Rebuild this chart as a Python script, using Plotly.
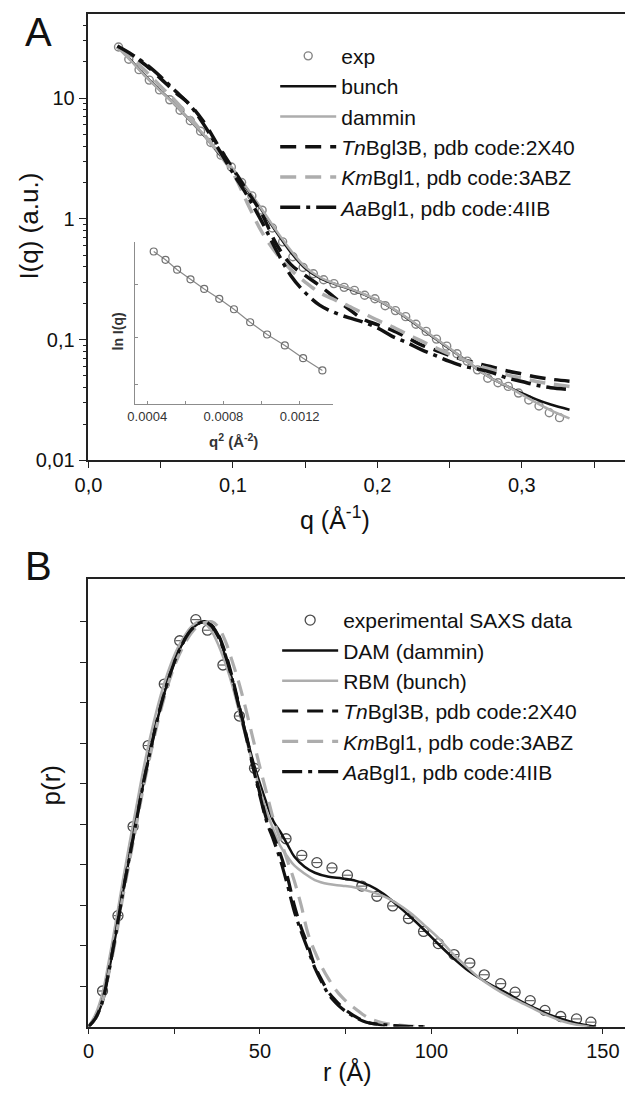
import plotly.graph_objects as go

# ---------------- Panel A: SAXS curves ----------------
q_exp = [0.0208, 0.0279, 0.0350, 0.0421, 0.0492, 0.0563, 0.0634, 0.0705, 0.0776, 0.0847,
         0.0918, 0.0989, 0.1060, 0.1131, 0.1202, 0.1273, 0.1344, 0.1415, 0.1486, 0.1557,
         0.1628, 0.1699, 0.1770, 0.1841, 0.1912, 0.1983, 0.2054, 0.2125, 0.2196, 0.2267,
         0.2338, 0.2409, 0.2480, 0.2551, 0.2622, 0.2693, 0.2764, 0.2835, 0.2906, 0.2977,
         0.3048, 0.3119, 0.3190, 0.3261]
I_exp = [26.5, 21.0, 17.2, 14.1, 11.7, 9.68, 7.94, 6.50, 5.32, 4.29,
         3.37, 2.69, 2.00, 1.55, 1.18, 0.84, 0.645, 0.486, 0.396, 0.351,
         0.313, 0.291, 0.271, 0.256, 0.233, 0.218, 0.191, 0.174, 0.155, 0.134,
         0.117, 0.101, 0.0883, 0.0764, 0.0664, 0.0562, 0.0479, 0.0440, 0.0410, 0.0361,
         0.0316, 0.0282, 0.0248, 0.0226]

q_fit = [0.02, 0.03, 0.04, 0.05, 0.06, 0.07, 0.08, 0.09, 0.10, 0.11, 0.12, 0.13, 0.14, 0.15,
         0.16, 0.17, 0.18, 0.19, 0.20, 0.21, 0.22, 0.23, 0.24, 0.25, 0.26, 0.27, 0.28, 0.29,
         0.30, 0.31, 0.32, 0.333]
I_bunch = [26.8, 20.2, 15.0, 11.5, 8.8, 6.6, 4.9, 3.5, 2.55, 1.75, 1.18, 0.78, 0.53, 0.39,
           0.325, 0.29, 0.265, 0.238, 0.212, 0.182, 0.152, 0.125, 0.102, 0.084, 0.069, 0.056,
           0.047, 0.041, 0.036, 0.032, 0.029, 0.0263]
I_dammin = [26.5, 20.0, 14.9, 11.4, 8.8, 6.6, 4.95, 3.55, 2.6, 1.78, 1.2, 0.8, 0.55, 0.40,
            0.33, 0.292, 0.267, 0.24, 0.213, 0.183, 0.153, 0.126, 0.103, 0.085, 0.069, 0.056,
            0.047, 0.041, 0.035, 0.030, 0.026, 0.0223]
I_tn = [26.5, 22.5, 18.6, 14.5, 11.2, 8.9, 6.3, 4.0, 2.6, 1.7, 1.1, 0.62, 0.42, 0.34,
        0.28, 0.225, 0.18, 0.148, 0.133, 0.12, 0.105, 0.091, 0.082, 0.074, 0.068, 0.063,
        0.059, 0.055, 0.052, 0.049, 0.047, 0.0453]
I_km = [26.5, 21.5, 16.5, 12.5, 9.5, 7.0, 5.0, 3.5, 2.4, 1.35, 0.78, 0.52, 0.38, 0.30,
        0.245, 0.215, 0.19, 0.166, 0.145, 0.128, 0.112, 0.098, 0.086, 0.076, 0.068, 0.061,
        0.056, 0.051, 0.048, 0.045, 0.043, 0.041]
I_aa = [27.0, 23.0, 19.0, 15.0, 11.5, 8.8, 6.0, 3.8, 2.4, 1.55, 0.95, 0.55, 0.34, 0.245,
        0.193, 0.168, 0.152, 0.14, 0.125, 0.107, 0.095, 0.083, 0.074, 0.066, 0.060, 0.057,
        0.053, 0.048, 0.045, 0.042, 0.040, 0.0387]

# Inset: Guinier plot
q2_guinier = [0.000434, 0.000496, 0.000557, 0.000627, 0.000699, 0.000778,
              0.000855, 0.000940, 0.001029, 0.001122, 0.001218, 0.001319]
lnI_guinier = [3.277, 3.245, 3.207, 3.170, 3.133, 3.095,
               3.055, 3.005, 2.958, 2.916, 2.867, 2.820]

# ---------------- Panel B: p(r) ----------------
r_exp = [4.1, 8.6, 13.0, 17.4, 22.1, 26.6, 31.3, 34.7, 39.2, 44.0, 48.4, 57.6, 62.2, 66.6,
         71.0, 75.5, 79.7, 84.1, 88.7, 93.3, 97.7, 102.0, 106.6, 111.2, 115.4, 120.2, 124.4,
         128.8, 133.1, 137.7, 142.3, 146.5]
p_exp = [0.088, 0.274, 0.494, 0.694, 0.846, 0.953, 1.005, 0.979, 0.893, 0.767, 0.638, 0.464,
         0.423, 0.405, 0.392, 0.374, 0.347, 0.322, 0.298, 0.267, 0.235, 0.205, 0.178, 0.157,
         0.128, 0.106, 0.085, 0.064, 0.040, 0.025, 0.019, 0.011]

r_dam = [0, 2, 4, 6, 8, 10, 12, 14, 16, 18, 20, 22, 24, 26, 28, 30, 32, 34, 36, 38, 40, 42,
         44, 46, 48, 50, 52, 54, 56, 58, 60, 63, 66, 70, 74, 78, 82, 86, 90, 94, 98, 102, 106,
         110, 114, 118, 122, 126, 130, 134, 138, 142, 146, 148]
p_dam = [0, 0.02, 0.06, 0.14, 0.23, 0.33, 0.42, 0.51, 0.60, 0.68, 0.755, 0.82, 0.875, 0.92,
         0.955, 0.98, 0.995, 1.0, 0.99, 0.965, 0.91, 0.855, 0.79, 0.72, 0.655, 0.60, 0.55,
         0.506, 0.48, 0.45, 0.42, 0.395, 0.38, 0.37, 0.366, 0.36, 0.348, 0.328, 0.30, 0.27,
         0.238, 0.204, 0.172, 0.143, 0.12, 0.10, 0.083, 0.063, 0.046, 0.031, 0.019, 0.009,
         0.002, 0.0]
r_rbm = [0, 2, 4, 6, 8, 10, 12, 14, 16, 18, 20, 22, 24, 26, 28, 30, 32, 34, 36, 38, 40, 42,
         44, 46, 48, 50, 52, 54, 56, 58, 60, 63, 66, 70, 74, 78, 82, 86, 90, 94, 98, 102, 106,
         110, 114, 118, 122, 126, 130, 134, 138, 142, 146]
p_rbm = [0, 0.03, 0.08, 0.165, 0.26, 0.36, 0.455, 0.545, 0.635, 0.715, 0.785, 0.845, 0.895,
         0.935, 0.965, 0.988, 1.0, 0.995, 0.975, 0.94, 0.895, 0.84, 0.775, 0.71, 0.645, 0.585,
         0.53, 0.485, 0.445, 0.42, 0.398, 0.378, 0.362, 0.352, 0.348, 0.343, 0.334, 0.322,
         0.304, 0.28, 0.25, 0.219, 0.182, 0.15, 0.12, 0.097, 0.077, 0.06, 0.043, 0.027, 0.014,
         0.005, 0.0]
r_mod = [0, 2, 4, 6, 8, 10, 12, 14, 16, 18, 20, 22, 24, 26, 28, 30, 32, 34, 36, 38, 40, 42,
         44, 46, 48, 50, 52, 54, 56, 58, 60, 62, 64, 66, 68, 70, 72, 74, 76, 78, 80, 82, 86,
         90, 94, 98]
p_tn = [0, 0.02, 0.06, 0.14, 0.23, 0.33, 0.42, 0.51, 0.60, 0.68, 0.755, 0.82, 0.875, 0.92,
        0.955, 0.98, 0.995, 1.0, 0.99, 0.965, 0.92, 0.86, 0.79, 0.72, 0.645, 0.575, 0.51, 0.47,
        0.425, 0.37, 0.30, 0.245, 0.20, 0.15, 0.115, 0.085, 0.065, 0.048, 0.035, 0.024, 0.015,
        0.009, 0.004, 0.001, 0.0, 0.0]
p_km = [0, 0.02, 0.06, 0.135, 0.22, 0.32, 0.41, 0.50, 0.59, 0.67, 0.745, 0.81, 0.865, 0.91,
        0.945, 0.972, 0.99, 0.998, 1.0, 0.985, 0.95, 0.90, 0.845, 0.78, 0.71, 0.64, 0.575, 0.51,
        0.46, 0.41, 0.36, 0.30, 0.23, 0.185, 0.148, 0.118, 0.092, 0.072, 0.056, 0.043, 0.030,
        0.020, 0.009, 0.004, 0.001, 0.0]
p_aa = [0, 0.02, 0.06, 0.14, 0.23, 0.33, 0.42, 0.51, 0.60, 0.68, 0.755, 0.82, 0.875, 0.92,
        0.955, 0.98, 0.995, 1.0, 0.988, 0.96, 0.915, 0.855, 0.785, 0.715, 0.64, 0.57, 0.505,
        0.46, 0.41, 0.35, 0.285, 0.235, 0.19, 0.145, 0.11, 0.08, 0.06, 0.044, 0.032, 0.022,
        0.014, 0.009, 0.005, 0.002, 0.0, 0.0]

# Tick labels
a_xticks = [0.0, 0.1, 0.2, 0.3]
a_xticktext = ["0,0", "0,1", "0,2", "0,3"]
a_xminor = [0.05, 0.15, 0.25, 0.35]
a_yticks = [0.01, 0.1, 1, 10]
a_yticktext = ["0,01", "0,1", "1", "10"]
a_yminor = [0.02, 0.03, 0.04, 0.05, 0.06, 0.07, 0.08, 0.09, 0.2, 0.3, 0.4, 0.5, 0.6, 0.7,
            0.8, 0.9, 2, 3, 4, 5, 6, 7, 8, 9, 20, 30, 40]
in_xticks = [0.0004, 0.0008, 0.0012]
in_xticktext = ["0.0004", "0.0008", "0.0012"]
in_xminor = [0.0006, 0.0010]
in_yticks = [2.767, 2.946, 3.151]
b_xticks = [0, 50, 100, 150]
b_xminor = [25, 75, 125]
b_yticks = [0.1, 0.2, 0.3, 0.4, 0.5, 0.6, 0.7, 0.8, 0.9, 1.0]

# ---------------- layout helpers ----------------
# The page body adds an 8 px margin, so the figure is drawn 8 px in from the corner.
OX, OY = 8, 8
W, H = 625, 1090
FONT = "Liberation Sans, Arial, sans-serif"
BLACK = "#111111"
GRAY = "#adadad"


def px(x):
    return (x - OX) / W


def py(y):
    return 1 - (y - OY) / H


fig = go.Figure()

dash_tn = "16px,9px"
dash_aa = "20px,6px,4px,6px"

# Panel A traces
fig.add_trace(go.Scatter(x=q_exp, y=I_exp, mode="markers", name="exp",
                         marker=dict(symbol="circle-open", size=8, color="#858585",
                                     line=dict(width=1.4)),
                         xaxis="x", yaxis="y", legend="legend"))
fig.add_trace(go.Scatter(x=q_fit, y=I_bunch, mode="lines", name="bunch",
                         line=dict(color=BLACK, width=2.5, shape="spline"),
                         xaxis="x", yaxis="y", legend="legend"))
fig.add_trace(go.Scatter(x=q_fit, y=I_dammin, mode="lines", name="dammin",
                         line=dict(color=GRAY, width=2.5, shape="spline"),
                         xaxis="x", yaxis="y", legend="legend"))
fig.add_trace(go.Scatter(x=q_fit, y=I_tn, mode="lines", name="<i>Tn</i>Bgl3B, pdb code:2X40",
                         line=dict(color=BLACK, width=3.5, dash=dash_tn, shape="spline"),
                         xaxis="x", yaxis="y", legend="legend"))
fig.add_trace(go.Scatter(x=q_fit, y=I_km, mode="lines", name="<i>Km</i>Bgl1, pdb code:3ABZ",
                         line=dict(color=GRAY, width=3.5, dash=dash_tn, shape="spline"),
                         xaxis="x", yaxis="y", legend="legend"))
fig.add_trace(go.Scatter(x=q_fit, y=I_aa, mode="lines", name="<i>Aa</i>Bgl1, pdb code:4IIB",
                         line=dict(color=BLACK, width=3.5, dash=dash_aa, shape="spline"),
                         xaxis="x", yaxis="y", legend="legend"))

# Inset
fig.add_trace(go.Scatter(x=q2_guinier, y=lnI_guinier, mode="lines+markers", showlegend=False,
                         line=dict(color="#8a8a8a", width=1.2),
                         marker=dict(symbol="circle-open", size=7, color="#707070",
                                     line=dict(width=1.2)),
                         xaxis="x3", yaxis="y3"))

# Panel B traces
fig.add_trace(go.Scatter(x=r_exp, y=p_exp, mode="markers", name="experimental SAXS data",
                         marker=dict(symbol="circle-open", size=10, color="#4a4a4a",
                                     line=dict(width=1.3)),
                         xaxis="x2", yaxis="y2", legend="legend2"))
fig.add_trace(go.Scatter(x=r_exp, y=p_exp, mode="markers", showlegend=False,
                         marker=dict(symbol="line-ew-open", size=6, color="#4a4a4a",
                                     line=dict(width=1)),
                         xaxis="x2", yaxis="y2"))
fig.add_trace(go.Scatter(x=r_dam, y=p_dam, mode="lines", name="DAM (dammin)",
                         line=dict(color=BLACK, width=2.5, shape="spline"),
                         xaxis="x2", yaxis="y2", legend="legend2"))
fig.add_trace(go.Scatter(x=r_rbm, y=p_rbm, mode="lines", name="RBM (bunch)",
                         line=dict(color=GRAY, width=2.5, shape="spline"),
                         xaxis="x2", yaxis="y2", legend="legend2"))
fig.add_trace(go.Scatter(x=r_mod, y=p_tn, mode="lines", name="<i>Tn</i>Bgl3B, pdb code:2X40",
                         line=dict(color=BLACK, width=3.2, dash=dash_tn, shape="spline"),
                         xaxis="x2", yaxis="y2", legend="legend2"))
fig.add_trace(go.Scatter(x=r_mod, y=p_km, mode="lines", name="<i>Km</i>Bgl1, pdb code:3ABZ",
                         line=dict(color=GRAY, width=3.2, dash=dash_tn, shape="spline"),
                         xaxis="x2", yaxis="y2", legend="legend2"))
fig.add_trace(go.Scatter(x=r_mod, y=p_aa, mode="lines", name="<i>Aa</i>Bgl1, pdb code:4IIB",
                         line=dict(color=BLACK, width=3.2, dash=dash_aa, shape="spline"),
                         xaxis="x2", yaxis="y2", legend="legend2"))

axis_common = dict(showline=True, linecolor="#222222", linewidth=1.6, mirror=True,
                   showgrid=False, zeroline=False, ticks="outside", tickcolor="#222222",
                   tickwidth=1.4, tickfont=dict(family=FONT, size=20, color=BLACK))

fig.update_layout(
    width=W, height=H, autosize=False,
    margin=dict(l=0, r=0, t=0, b=0),
    paper_bgcolor="white", plot_bgcolor="rgba(0,0,0,0)",
    font=dict(family=FONT, color=BLACK),
    xaxis=dict(domain=[px(76), px(631)], range=[0, 0.3756], anchor="y",
               tickmode="array", tickvals=a_xticks, ticktext=a_xticktext, ticklen=6,
               minor=dict(tickmode="array", tickvals=a_xminor, ticklen=6,
                          ticks="outside", tickcolor="#222222", tickwidth=1.4),
               **axis_common),
    yaxis=dict(domain=[py(465), py(14)], type="log", range=[-2, 1.697], anchor="x",
               tickmode="array", tickvals=a_yticks, ticktext=a_yticktext, ticklen=8,
               minor=dict(tickmode="array", tickvals=a_yminor, ticklen=4,
                          ticks="outside", tickcolor="#222222", tickwidth=1.2),
               **axis_common),
    xaxis2=dict(domain=[px(76), px(631)], range=[0, 158.2], anchor="y2",
                tickmode="array", tickvals=b_xticks, ticklen=6,
                minor=dict(tickmode="array", tickvals=b_xminor, ticklen=6,
                           ticks="outside", tickcolor="#222222", tickwidth=1.4),
                **axis_common),
    yaxis2=dict(domain=[py(1037), py(585)], range=[0, 1.105], anchor="x2",
                tickmode="array", tickvals=b_yticks, ticklen=7, showticklabels=False,
                **axis_common),
    xaxis3=dict(domain=[px(124), px(326)], range=[0.000338, 0.001374], anchor="y3",
                showline=True, linecolor="#8c8c8c", linewidth=1, mirror=False,
                showgrid=False, zeroline=False, ticks="inside", ticklen=3,
                tickcolor="#8c8c8c", tickmode="array", tickvals=in_xticks,
                ticktext=in_xticktext,
                minor=dict(tickmode="array", tickvals=in_xminor, ticklen=3, ticks="inside",
                           tickcolor="#8c8c8c"),
                tickfont=dict(family=FONT, size=13, color="#333333")),
    yaxis3=dict(domain=[py(408), py(244)], range=[2.691, 3.315], anchor="x3",
                showline=True, linecolor="#8c8c8c", linewidth=1, mirror=False,
                showgrid=False, zeroline=False, ticks="inside", ticklen=3,
                tickcolor="#8c8c8c", tickmode="array", tickvals=in_yticks,
                showticklabels=False),
    legend=dict(x=px(267), y=py(36), xanchor="left", yanchor="top",
                bgcolor="rgba(0,0,0,0)", borderwidth=0, itemwidth=56,
                font=dict(family=FONT, size=21, color=BLACK), tracegroupgap=0,
                itemclick=False),
    legend2=dict(x=px(269), y=py(606), xanchor="left", yanchor="top",
                 bgcolor="rgba(0,0,0,0)", borderwidth=0, itemwidth=56,
                 font=dict(family=FONT, size=21, color=BLACK), tracegroupgap=0,
                 itemclick=False),
    showlegend=True,
)

annotations = [
    dict(text="A", x=px(9), y=py(8), size=40, xa="left", ya="top"),
    dict(text="B", x=px(9), y=py(572), size=40, xa="left", ya="middle"),
    dict(text="q (Å<sup>-1</sup>)", x=px(328), y=py(523), size=25),
    dict(text="I(q) (a.u.)", x=px(15), y=py(228), size=26, angle=-90),
    dict(text="r (Å)", x=px(341), y=py(1082), size=25),
    dict(text="p(r)", x=px(38), y=py(793), size=26, angle=-90),
    dict(text="<b>q<sup>2</sup> (Å<sup>-2</sup>)</b>", x=px(224), y=py(445), size=15,
         color="#333333"),
    dict(text="<b>ln I(q)</b>", x=px(106), y=py(335), size=14, color="#333333", angle=-90),
]
ann_list = []
for a in annotations:
    ann_list.append(dict(text=a["text"], x=a["x"], y=a["y"], xref="paper", yref="paper",
                         showarrow=False, xanchor=a.get("xa", "center"),
                         yanchor=a.get("ya", "middle"),
                         textangle=a.get("angle", 0),
                         font=dict(family=FONT, size=a["size"], color=a.get("color", BLACK))))
fig.update_layout(annotations=ann_list)

fig.write_html("out.html")
